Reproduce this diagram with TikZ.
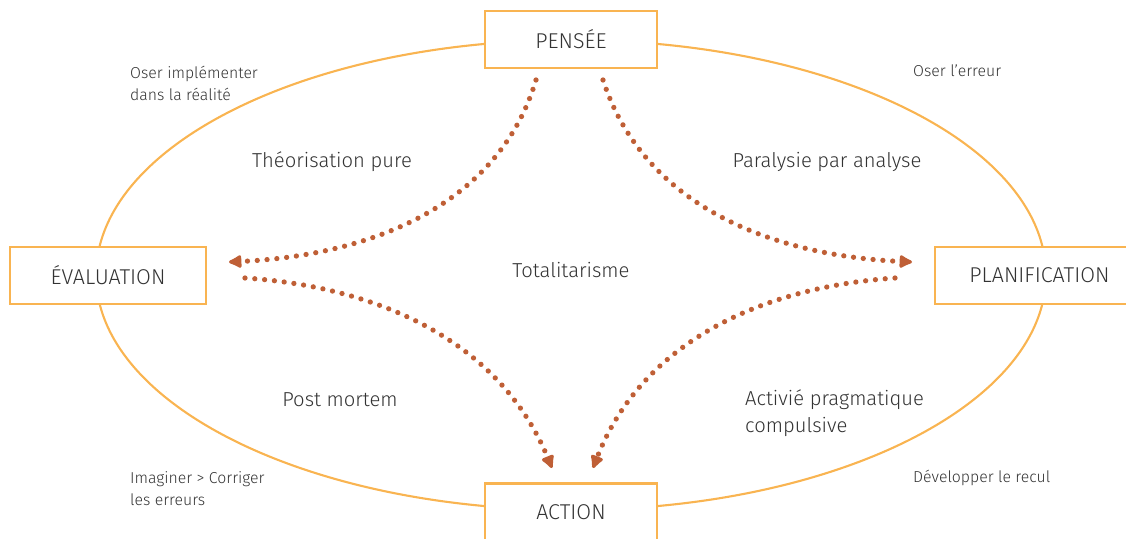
\documentclass[tikz,border=0pt]{standalone}
\usepackage{fontspec}
\setmainfont{Fira Sans}[UprightFont={* Light}]
\usepackage{tikz}
\usetikzlibrary{arrows.meta}
\definecolor{ringorange}{HTML}{F9B451}
\definecolor{dotbrown}{HTML}{BF5F36}
\definecolor{txtgrey}{HTML}{333333}
\tikzstyle{pole} = [draw=ringorange,line width=1.2pt,fill=white,minimum height=1.14cm,text=txtgrey,font=\fontsize{12.2}{15}\selectfont]
\tikzstyle{zone} = [text=txtgrey,font=\fontsize{11.5}{15.4}\selectfont]
\tikzstyle{hint} = [text=txtgrey,font=\fontsize{9}{12.5}\selectfont,align=left,anchor=west]
\tikzstyle{flow} = [dotbrown,line width=3pt,line cap=round,dash pattern=on 0pt off 5.6pt,-{Latex[length=9pt,width=9pt,round]}]

\begin{document}
\begin{tikzpicture}[x=0.02cm,y=-0.02cm]
\useasboundingbox (0,0) rectangle (1126,538);

\draw[ringorange,line width=1.2pt] (571,275) ellipse [x radius=9.5cm,y radius=4.7cm];

\node[pole,minimum width=3.44cm] (pensee) at (571,39.5) {PENSÉE};
\node[pole,minimum width=3.92cm] (evaluation) at (108,275.5) {ÉVALUATION};
\node[pole,minimum width=4.18cm] (planification) at (1039.5,275.5) {PLANIFICATION};
\node[pole,minimum width=3.44cm] (action) at (571,512) {ACTION};

% points de depart et d'arrivee des fleches
\coordinate (pe-w) at (536,80);
\coordinate (pe-e) at (603,80);
\coordinate (ev-in) at (229,262);
\coordinate (ev-out) at (245,278);
\coordinate (pl-in) at (912,262);
\coordinate (pl-out) at (895,278);
\coordinate (ac-w) at (552,468);
\coordinate (ac-e) at (593,468);

\draw[flow] (pe-w) .. controls (500,200) and (380,255) .. (ev-in);
\draw[flow] (ev-out) .. controls (380,287) and (500,342) .. (ac-w);
\draw[flow] (pl-out) .. controls (762,287) and (642,342) .. (ac-e);
\draw[flow] (pe-e) .. controls (642,200) and (762,255) .. (pl-in);

\node[zone] (theorie) at (332,162) {Théorisation pure};
\node[zone] (paralysie) at (827,162) {Paralysie par analyse};
\node[zone] (totalit) at (571,270) {Totalitarisme};
\node[zone] (postmortem) at (340,400) {Post mortem};
\node[zone,align=left,anchor=west] (activite) at (739,413) {Activié pragmatique\\compulsive};

\node[hint] (oserimpl) at (124,83) {Oser implémenter\\dans la réalité};
\node[hint] (osererr) at (907,71) {Oser l’erreur};
\node[hint] (imaginer) at (124,489) {Imaginer > Corriger\\les erreurs};
\node[hint] (recul) at (907,478) {Développer le recul};
\end{tikzpicture}
\end{document}
